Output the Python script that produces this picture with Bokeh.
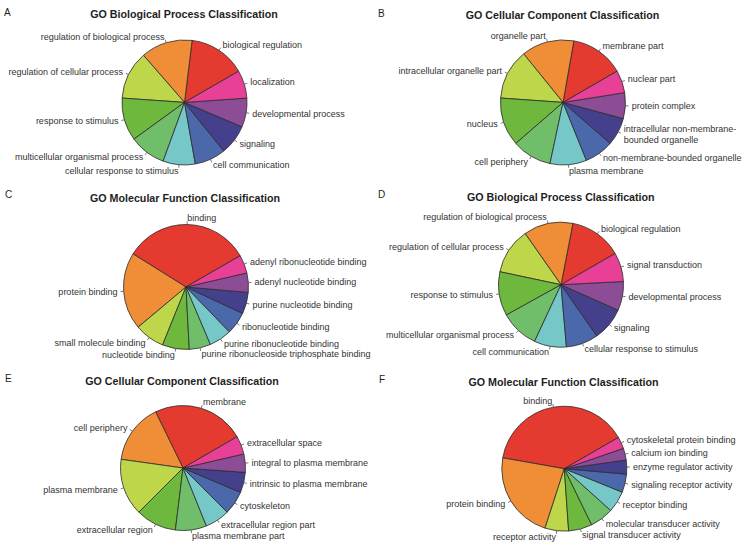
import math
from bokeh.plotting import figure
from bokeh.models import Range1d, ColumnDataSource
from bokeh.embed import file_html
from bokeh.resources import INLINE
from bokeh.core.properties import value

# ---------------- data ----------------
slice_colors = ["#E43A2F", "#F08E38", "#BED64A", "#6EB83E", "#70BE6A",
                "#76C8C8", "#4A68AA", "#44408C", "#8C4C96", "#E84096"]

A_title = "GO Biological Process Classification"
A_labels = ["biological regulation", "regulation of biological process",
            "regulation of cellular process", "response to stimulus",
            "multicellular organismal process", "cellular response to stimulus",
            "cell communication", "signaling", "developmental process", "localization"]
A_values = [53, 48, 45, 40, 34, 30, 29, 28, 27, 26]

B_title = "GO Cellular Component Classification"
B_labels = ["membrane part", "organelle part", "intracellular organelle part",
            "nucleus", "cell periphery", "plasma membrane",
            "non-membrane-bounded organelle",
            "intracellular non-membrane-\nbounded organelle",
            "protein complex", "nuclear part"]
B_values = [50, 49, 47, 45, 37, 34, 27, 26, 24, 21]

C_title = "GO Molecular Function Classification"
C_labels = ["binding", "protein binding", "small molecule binding",
            "nucleotide binding", "purine ribonucleoside triphosphate binding",
            "purine ribonucleotide binding", "ribonucleotide binding",
            "purine nucleotide binding", "adenyl nucleotide binding",
            "adenyl ribonucleotide binding"]
C_values = [118, 72, 28, 25, 20, 21, 21, 20, 18, 17]

D_title = "GO Biological Process Classification"
D_labels = ["biological regulation", "regulation of biological process",
            "regulation of cellular process", "response to stimulus",
            "multicellular organismal process", "cell communication",
            "cellular response to stimulus", "signaling",
            "developmental process", "signal transduction"]
D_values = [49, 46, 43, 41, 36, 30, 30, 31, 27, 27]

E_title = "GO Cellular Component Classification"
E_labels = ["membrane", "cell periphery", "plasma membrane",
            "extracellular region", "plasma membrane part",
            "extracellular region part", "cytoskeleton",
            "intrinsic to plasma membrane", "integral to plasma membrane",
            "extracellular space"]
E_values = [86, 56, 53, 38, 29, 23, 22, 19, 17, 17]

F_title = "GO Molecular Function Classification"
F_labels = ["binding", "protein binding", "receptor activity",
            "signal transducer activity", "molecular transducer activity",
            "receptor binding", "signaling receptor activity",
            "enzyme regulator activity", "calcium ion binding",
            "cytoskeletal protein binding"]
F_values = [140, 82, 22, 22, 22, 20, 17, 13, 11, 11]

panel_letters = ["A", "B", "C", "D", "E", "F"]

# ---------------- layout (page pixels) ----------------
W, H = 742, 542
OX = 2.5               # small shift left so right-most labels fit
SY = 542.0 / 553.0     # gentle vertical squeeze so bottom labels fit
R = 62.5               # pie radius in px
START_DEG = 30.0       # first slice starts here, slices run anticlockwise

panels = [
    # letter(x,y), title(x,y), pie centre(x,y)
    dict(letter=(6, 12), title=(186, 14), center=(186.5, 104),
         t=A_title, labels=A_labels, values=A_values),
    dict(letter=(380, 13.5), title=(564.5, 15), center=(565, 104),
         t=B_title, labels=B_labels, values=B_values),
    dict(letter=(7, 197.5), title=(187, 201.7), center=(188, 292.3),
         t=C_title, labels=C_labels, values=C_values),
    dict(letter=(380, 197.7), title=(562.8, 200), center=(563, 290),
         t=D_title, labels=D_labels, values=D_values),
    dict(letter=(7, 386), title=(184, 388.7), center=(185, 477),
         t=E_title, labels=E_labels, values=E_values),
    dict(letter=(381, 387), title=(565.5, 389.3), center=(566.3, 477.7),
         t=F_title, labels=F_labels, values=F_values),
]


def px(x):
    return x - OX


def py(y):
    return H - y * SY


p = figure(width=W, height=H, x_range=Range1d(0, W), y_range=Range1d(0, H),
           output_backend="svg", toolbar_location=None,
           x_axis_type=None, y_axis_type=None, min_border=0)
p.grid.visible = False
p.outline_line_color = None
p.background_fill_color = "white"
p.border_fill_color = "white"

FONT = value("Liberation Sans")

for letter, pn in zip(panel_letters, panels):
    cx, cy = px(pn["center"][0]), py(pn["center"][1])
    vals = pn["values"]
    total = float(sum(vals))
    starts, ends, mids = [], [], []
    a = math.radians(START_DEG)
    for v in vals:
        b = a + 2 * math.pi * v / total
        starts.append(a)
        ends.append(b)
        mids.append((a + b) / 2)
        a = b
    n = len(vals)
    src = ColumnDataSource(dict(x=[cx] * n, y=[cy] * n, start=starts, end=ends,
                                color=slice_colors[:n]))
    p.wedge(x="x", y="y", radius=R, start_angle="start", end_angle="end",
            direction="anticlock", fill_color="color", line_color="#2b2b2b",
            line_width=0.8, source=src)

    # label ticks and texts
    x0 = [cx + R * math.cos(m) for m in mids]
    y0 = [cy + R * math.sin(m) for m in mids]
    x1 = [cx + 1.05 * R * math.cos(m) for m in mids]
    y1 = [cy + 1.05 * R * math.sin(m) for m in mids]
    p.segment(x0=x0, y0=y0, x1=x1, y1=y1, line_color="#555555", line_width=0.8)

    tx = [cx + 1.1 * R * math.cos(m) for m in mids]
    ty = [cy + 1.1 * R * math.sin(m) for m in mids]
    align = ["left" if math.cos(m) >= 0 else "right" for m in mids]
    lsrc = ColumnDataSource(dict(x=tx, y=ty, text=pn["labels"], align=align))
    p.text(x="x", y="y", text="text", text_align="align",
           text_baseline="middle", text_font=FONT, text_font_size="9px",
           text_color="#333333", text_line_height=1.15, source=lsrc)

    # title
    p.text(x=[px(pn["title"][0])], y=[py(pn["title"][1])], text=[pn["t"]],
           text_align="center", text_baseline="middle", text_font=FONT,
           text_font_size="10.7px", text_font_style="bold", text_color="#1e1e1e")
    # panel letter
    p.text(x=[px(pn["letter"][0])], y=[py(pn["letter"][1])], text=[letter],
           text_align="left", text_baseline="middle", text_font=FONT,
           text_font_size="10px", text_color="#1e1e1e")

open("out.html", "w").write(file_html(p, INLINE))
